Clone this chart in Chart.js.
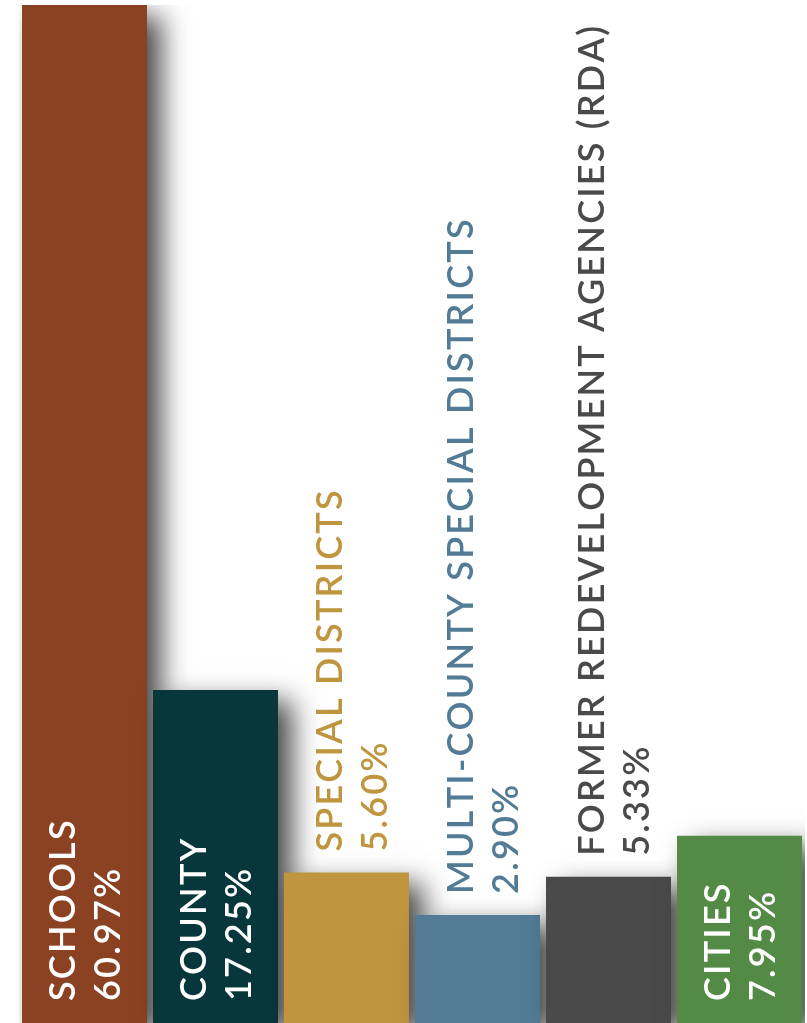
<!DOCTYPE html>
<html>
<head>
<meta charset="utf-8">
<script src="https://cdn.jsdelivr.net/npm/chart.js@4"></script>
<style>
  html, body { margin: 0; padding: 0; background: #ffffff; }
  #wrap { width: 807px; height: 1023px; position: relative; }
</style>
</head>
<body>
<div id="wrap"><canvas id="chart"></canvas></div>
<script>
// Share of property tax revenue by recipient
const categories = [
  'SCHOOLS',
  'COUNTY',
  'SPECIAL DISTRICTS',
  'MULTI-COUNTY SPECIAL DISTRICTS',
  'FORMER REDEVELOPMENT AGENCIES (RDA)',
  'CITIES'
];
const shares = [60.97, 17.25, 5.60, 2.90, 5.33, 7.95];
const valueLabels = ['60.97%', '17.25%', '5.60%', '2.90%', '5.33%', '7.95%'];
const barColors = ['#8B4222', '#07363B', '#C0953F', '#527B96', '#4A4A4A', '#538A45'];

const AXIS_FLOOR = -4;
const FONT = '600 36px Lato, "Open Sans", sans-serif';
const SPACING = 2.2;

function advance(ctx, ch) {
  return ctx.measureText(ch).width + SPACING;
}
function spacedWidth(ctx, text) {
  let w = 0;
  for (const ch of text) w += advance(ctx, ch);
  return w - SPACING;
}
function drawSpaced(ctx, text, x, y) {
  let cx = x;
  for (const ch of text) {
    ctx.fillText(ch, cx, y);
    cx += advance(ctx, ch);
  }
}

// Soft drop shadow behind each bar
const barShadow = {
  id: 'barShadow',
  beforeDatasetsDraw(chart) {
    const ctx = chart.ctx;
    ctx.save();
    ctx.shadowColor = 'rgba(0,0,0,0.72)';
    ctx.shadowBlur = 26;
    ctx.shadowOffsetX = 14;
    ctx.shadowOffsetY = 11;
  },
  afterDatasetsDraw(chart) {
    chart.ctx.restore();
  }
};

// Rotated name + percentage labels, inside tall bars, above short ones
const barLabels = {
  id: 'barLabels',
  afterDatasetsDraw(chart) {
    const ctx = chart.ctx;
    const meta = chart.getDatasetMeta(0);
    const bottom = chart.chartArea.bottom;
    ctx.save();
    ctx.font = FONT;
    ctx.textBaseline = 'alphabetic';
    ctx.textAlign = 'left';
    meta.data.forEach((bar, i) => {
      const left = bar.x - bar.width / 2;
      const name = categories[i];
      const pct = valueLabels[i];
      const longest = Math.max(spacedWidth(ctx, name), spacedWidth(ctx, pct));
      const barH = bottom - bar.y;
      const inside = barH > longest + 40;
      const start = inside ? bottom - 22 : bar.y - 21;
      const shift = inside ? 0 : 5;
      ctx.fillStyle = inside ? '#ffffff' : barColors[i];
      [[name, left + 53 + shift], [pct, left + 98 + shift]].forEach(([txt, bx]) => {
        ctx.save();
        ctx.translate(bx, start);
        ctx.rotate(-Math.PI / 2);
        drawSpaced(ctx, txt, 0, 0);
        ctx.restore();
      });
    });
    ctx.restore();
  }
};

new Chart(document.getElementById('chart'), {
  type: 'bar',
  data: {
    labels: categories,
    datasets: [{
      data: shares,
      backgroundColor: barColors,
      borderWidth: 0,
      base: AXIS_FLOOR,
      barPercentage: 0.954,
      categoryPercentage: 1
    }]
  },
  options: {
    responsive: true,
    maintainAspectRatio: false,
    animation: false,
    layout: { padding: { top: 5, left: 19, right: 2, bottom: 0 } },
    plugins: { legend: { display: false }, tooltip: { enabled: false } },
    scales: {
      x: { display: false },
      y: { display: false, min: AXIS_FLOOR, max: 60.97 }
    }
  },
  plugins: [barShadow, barLabels]
});
</script>
</body>
</html>
